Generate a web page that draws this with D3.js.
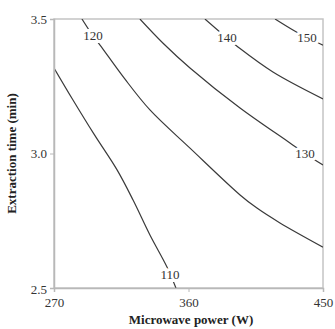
<!DOCTYPE html>
<html>
<head>
<meta charset="utf-8">
<script src="https://cdn.jsdelivr.net/npm/d3@7"></script>
<style>
  html, body { margin: 0; padding: 0; background: #fff; }
  svg { display: block; }
  .tick text { font-family: "Liberation Serif", "Times New Roman", serif; font-size: 13px; fill: #333; }
</style>
</head>
<body>
<svg id="chart" width="335" height="329"></svg>
<script>
// Axis tick values
const powerTicks = [270, 360, 450];
const timeTicks = [2.5, 3.0, 3.5];

// Contour levels of the response (extraction yield)
const levels = [110, 120, 130, 140, 150];

// Contour polylines as [microwave power (W), extraction time (min)]
const contour110 = [[270, 3.318], [282.7, 3.199], [297, 3.07], [312.2, 2.939], [322.9, 2.827], [334.2, 2.697], [345.6, 2.578], [351.6, 2.5]];
const contour120 = [[288.7, 3.5], [296.1, 3.437], [300.8, 3.403], [317, 3.28], [334.2, 3.162], [361.0, 3.02], [394.5, 2.846], [405.8, 2.797], [421.2, 2.742], [450, 2.652]];
const contour130 = [[327.5, 3.5], [343, 3.41], [361.0, 3.318], [394.5, 3.169], [427.9, 3.039], [437.9, 3.0], [450, 2.957]];
const contour140 = [[371.0, 3.5], [385.8, 3.429], [393.1, 3.396], [416.5, 3.303], [450, 3.203]];
const contour150 = [[417.9, 3.5], [429.9, 3.459], [439.3, 3.43], [450, 3.403]];
const contourLines = [contour110, contour120, contour130, contour140, contour150];

// Where each level's inline label sits on its line
const labelPoints = [[347.6, 2.552], [296.1, 3.437], [437.9, 3.0], [385.8, 3.43], [439.3, 3.43]];

const margin = { left: 54, right: 12, top: 19, bottom: 41 };
const W = 335, H = 329;
const svg = d3.select("#chart");

const x = d3.scaleLinear().domain([270, 450]).range([margin.left, W - margin.right]);
const y = d3.scaleLinear().domain([2.5, 3.5]).range([H - margin.bottom, margin.top]);

const clipId = "plot-clip";
svg.append("clipPath").attr("id", clipId)
  .append("rect")
  .attr("x", x(270)).attr("y", y(3.5))
  .attr("width", x(450) - x(270)).attr("height", y(2.5) - y(3.5));

// Frame
svg.append("rect")
  .attr("x", x(270)).attr("y", y(3.5))
  .attr("width", x(450) - x(270)).attr("height", y(2.5) - y(3.5))
  .attr("fill", "none").attr("stroke", "#c4c4c4").attr("stroke-width", 1.5);

// Contour lines
const line = d3.line().x(d => x(d[0])).y(d => y(d[1])).curve(d3.curveCatmullRom);
const g = svg.append("g").attr("clip-path", `url(#${clipId})`);
g.selectAll("path.contour")
  .data(contourLines)
  .join("path")
  .attr("class", "contour")
  .attr("d", line)
  .attr("fill", "none")
  .attr("stroke", "#3a3a3a")
  .attr("stroke-width", 1.2);

// Inline level labels with a white halo that breaks the line
svg.selectAll("text.level")
  .data(levels)
  .join("text")
  .attr("class", "level")
  .attr("x", (d, i) => x(labelPoints[i][0]))
  .attr("y", (d, i) => y(labelPoints[i][1]))
  .attr("dy", "0.35em")
  .attr("text-anchor", "middle")
  .attr("font-family", "'Liberation Serif', 'Times New Roman', serif")
  .attr("font-size", 13)
  .attr("fill", "#333")
  .attr("stroke", "#fff")
  .attr("stroke-width", 6)
  .attr("paint-order", "stroke")
  .text(d => d);

// Axes
const xAxis = svg.append("g")
  .attr("transform", `translate(0,${y(2.5)})`)
  .call(d3.axisBottom(x).tickValues(powerTicks).tickSize(4).tickPadding(3).tickFormat(d3.format("d")));
const yAxis = svg.append("g")
  .attr("transform", `translate(${x(270)},0)`)
  .call(d3.axisLeft(y).tickValues(timeTicks).tickSize(4).tickPadding(3).tickFormat(d3.format(".1f")));

[xAxis, yAxis].forEach(a => {
  a.select(".domain").attr("stroke", "#b8b8b8").attr("stroke-width", 1.5);
  a.selectAll(".tick line").attr("stroke", "#b8b8b8");
});
xAxis.selectAll(".tick line").filter(d => d !== 360).remove();
yAxis.selectAll(".tick line").filter(d => d !== 3.0).remove();
xAxis.selectAll(".tick text").attr("dy", "0.95em");
yAxis.selectAll(".tick text").filter(d => d === 2.5).attr("dy", "0.45em");

// Axis titles
svg.append("text")
  .attr("x", 191).attr("y", 324)
  .attr("text-anchor", "middle")
  .attr("font-family", "'Liberation Serif', 'Times New Roman', serif")
  .attr("font-weight", "bold").attr("font-size", 13)
  .attr("fill", "#222")
  .text("Microwave power (W)");

svg.append("text")
  .attr("transform", `translate(16,${(y(2.5) + y(3.5)) / 2}) rotate(-90)`)
  .attr("text-anchor", "middle")
  .attr("font-family", "'Liberation Serif', 'Times New Roman', serif")
  .attr("font-weight", "bold").attr("font-size", 13)
  .attr("fill", "#222")
  .text("Extraction time (min)");
</script>
</body>
</html>
